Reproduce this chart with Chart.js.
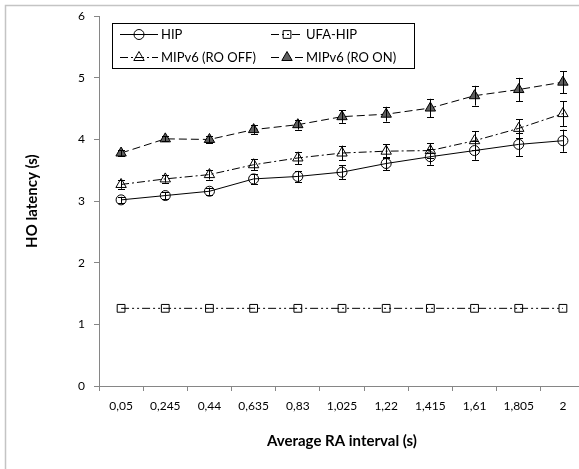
<html>
<head>
<script src="https://cdn.jsdelivr.net/npm/chart.js@4/dist/chart.umd.min.js"></script>
<style>
  body { margin: 0; overflow: hidden; background: #fff; }
</style>
</head>
<body>
<canvas id="myChart" width="600" height="469"></canvas>
<script>
// x categories (RA interval, s)
const categories = ['0,05', '0,245', '0,44', '0,635', '0,83', '1,025', '1,22', '1,415', '1,61', '1,805', '2'];

// HO latency (s) and error bar half-heights
const hip      = [3.02, 3.09, 3.16, 3.36, 3.40, 3.47, 3.61, 3.72, 3.82, 3.92, 3.98];
const hipErr   = [0.05, 0.06, 0.06, 0.08, 0.09, 0.11, 0.11, 0.13, 0.15, 0.19, 0.18];
const ufaHip   = [1.26, 1.26, 1.26, 1.26, 1.26, 1.26, 1.26, 1.26, 1.26, 1.26, 1.26];
const ufaErr   = [0, 0, 0, 0, 0, 0, 0, 0, 0, 0, 0];
const roOff    = [3.27, 3.36, 3.43, 3.59, 3.70, 3.78, 3.81, 3.82, 3.98, 4.18, 4.42];
const roOffErr = [0.07, 0.06, 0.08, 0.09, 0.10, 0.12, 0.11, 0.12, 0.15, 0.15, 0.20];
const roOn     = [3.78, 4.01, 4.00, 4.16, 4.24, 4.37, 4.41, 4.51, 4.71, 4.81, 4.93];
const roOnErr  = [0.05, 0.04, 0.05, 0.07, 0.08, 0.10, 0.12, 0.15, 0.16, 0.19, 0.18];

const yTicks = [0, 1, 2, 3, 4, 5, 6];

const FONT = 'Lato, "Open Sans", sans-serif';

// error bars drawn with the y scale
const errorBars = {
  id: 'errorBars',
  afterDatasetsDraw(chart) {
    const ctx = chart.ctx;
    const y = chart.scales.y;
    chart.data.datasets.forEach((ds, i) => {
      if (!ds.errors) return;
      const meta = chart.getDatasetMeta(i);
      ctx.save();
      ctx.strokeStyle = '#000';
      ctx.lineWidth = 1;
      meta.data.forEach((pt, j) => {
        const e = ds.errors[j];
        if (!e) return;
        const top = y.getPixelForValue(ds.data[j] + e);
        const bot = y.getPixelForValue(ds.data[j] - e);
        const x = Math.round(pt.x) + 0.5;
        ctx.beginPath();
        ctx.moveTo(x, top); ctx.lineTo(x, bot);
        ctx.moveTo(x - 3.5, Math.round(top) + 0.5); ctx.lineTo(x + 3.5, Math.round(top) + 0.5);
        ctx.moveTo(x - 3.5, Math.round(bot) + 0.5); ctx.lineTo(x + 3.5, Math.round(bot) + 0.5);
        ctx.stroke();
      });
      ctx.restore();
    });
  }
};

// outer frame + boxed legend
const frameLegend = {
  id: 'frameLegend',
  beforeDraw(chart) {
    const ctx = chart.ctx;
    ctx.save();
    ctx.fillStyle = '#fff';
    ctx.fillRect(0, 0, chart.width, chart.height);
    ctx.strokeStyle = '#c4c4c4';
    ctx.lineWidth = 1.5;
    ctx.strokeRect(5.5, 5.5, 640, 500);
    ctx.restore();
  },
  afterDraw(chart) {
    const ctx = chart.ctx;
    ctx.save();
    ctx.fillStyle = '#fff';
    ctx.fillRect(112, 23, 302, 45);
    ctx.strokeStyle = '#000';
    ctx.lineWidth = 1;
    ctx.strokeRect(112.5, 23.5, 302, 45);
    const slots = [[120, 34], [271, 34], [120, 57], [271, 57]];
    chart.data.datasets.forEach((ds, i) => {
      const [x0, yy] = slots[i];
      const w = i % 2 === 0 ? 38 : 32;
      ctx.beginPath();
      ctx.setLineDash(ds.borderDash || []);
      ctx.strokeStyle = '#000';
      ctx.lineWidth = 1;
      ctx.moveTo(x0, yy + 0.5); ctx.lineTo(x0 + w, yy + 0.5);
      ctx.stroke();
      ctx.setLineDash([]);
      ctx.fillStyle = ds.pointBackgroundColor;
      ctx.strokeStyle = '#000';
      Chart.helpers.drawPoint(ctx, {
        pointStyle: ds.pointStyle, radius: ds.pointRadius, rotation: 0, borderWidth: 1
      }, x0 + w / 2, yy + 0.5);
      ctx.fillStyle = '#000';
      ctx.font = '13px ' + FONT;
      ctx.textBaseline = 'middle';
      ctx.fillText(ds.label, x0 + w + 3, yy + 1);
    });
    ctx.restore();
  }
};

new Chart(document.getElementById('myChart'), {
  type: 'line',
  data: {
    labels: categories,
    datasets: [
      { label: 'HIP', data: hip, errors: hipErr, borderColor: '#000', borderWidth: 1,
        pointStyle: 'circle', pointRadius: 5, pointBorderColor: '#000',
        pointBackgroundColor: 'rgba(0,0,0,0)', pointBorderWidth: 1 },
      { label: 'UFA-HIP', data: ufaHip, errors: ufaErr, borderColor: '#000', borderWidth: 1,
        borderDash: [8, 3, 2, 3, 2, 3],
        pointStyle: 'rect', pointRadius: 5.5, pointBorderColor: '#000',
        pointBackgroundColor: 'rgba(0,0,0,0)', pointBorderWidth: 1 },
      { label: 'MIPv6 (RO OFF)', data: roOff, errors: roOffErr, borderColor: '#000', borderWidth: 1,
        borderDash: [8, 3, 2, 3],
        pointStyle: 'triangle', pointRadius: 6, pointBorderColor: '#000',
        pointBackgroundColor: 'rgba(0,0,0,0)', pointBorderWidth: 1 },
      { label: 'MIPv6 (RO ON)', data: roOn, errors: roOnErr, borderColor: '#000', borderWidth: 1,
        borderDash: [8, 4],
        pointStyle: 'triangle', pointRadius: 6, pointBorderColor: '#000',
        pointBackgroundColor: '#5f5f5f', pointBorderWidth: 1 }
    ]
  },
  options: {
    responsive: false,
    animation: false,
    layout: { padding: { top: 15, right: 15, bottom: 0, left: 0 } },
    plugins: { legend: { display: false }, tooltip: { enabled: false } },
    scales: {
      x: {
        offset: true,
        grid: { offset: true, drawOnChartArea: false, drawTicks: true, tickLength: 5, color: '#868686' },
        border: { color: '#868686' },
        ticks: { color: '#000', font: { family: FONT, size: 12 }, padding: 8, maxRotation: 0, autoSkip: false },
        title: { display: true, text: 'Average RA interval (s)', color: '#000',
                 font: { family: FONT, size: 15, weight: 'bold' }, padding: { bottom: 19 } },
        afterFit(s) { s.height = 83; }
      },
      y: {
        min: 0, max: 6,
        afterBuildTicks(s) { s.ticks = yTicks.map(v => ({ value: v })); },
        grid: { drawOnChartArea: false, drawTicks: true, tickLength: 5, color: '#868686' },
        border: { color: '#868686' },
        ticks: { color: '#000', font: { family: FONT, size: 12 }, padding: 9 },
        title: { display: true, text: 'HO latency (s)', color: '#000',
                 font: { family: FONT, size: 15, weight: 'bold' }, padding: { top: 23 } },
        afterFit(s) { s.width = 99; }
      }
    }
  },
  plugins: [frameLegend, errorBars]
});
</script>
</body>
</html>
